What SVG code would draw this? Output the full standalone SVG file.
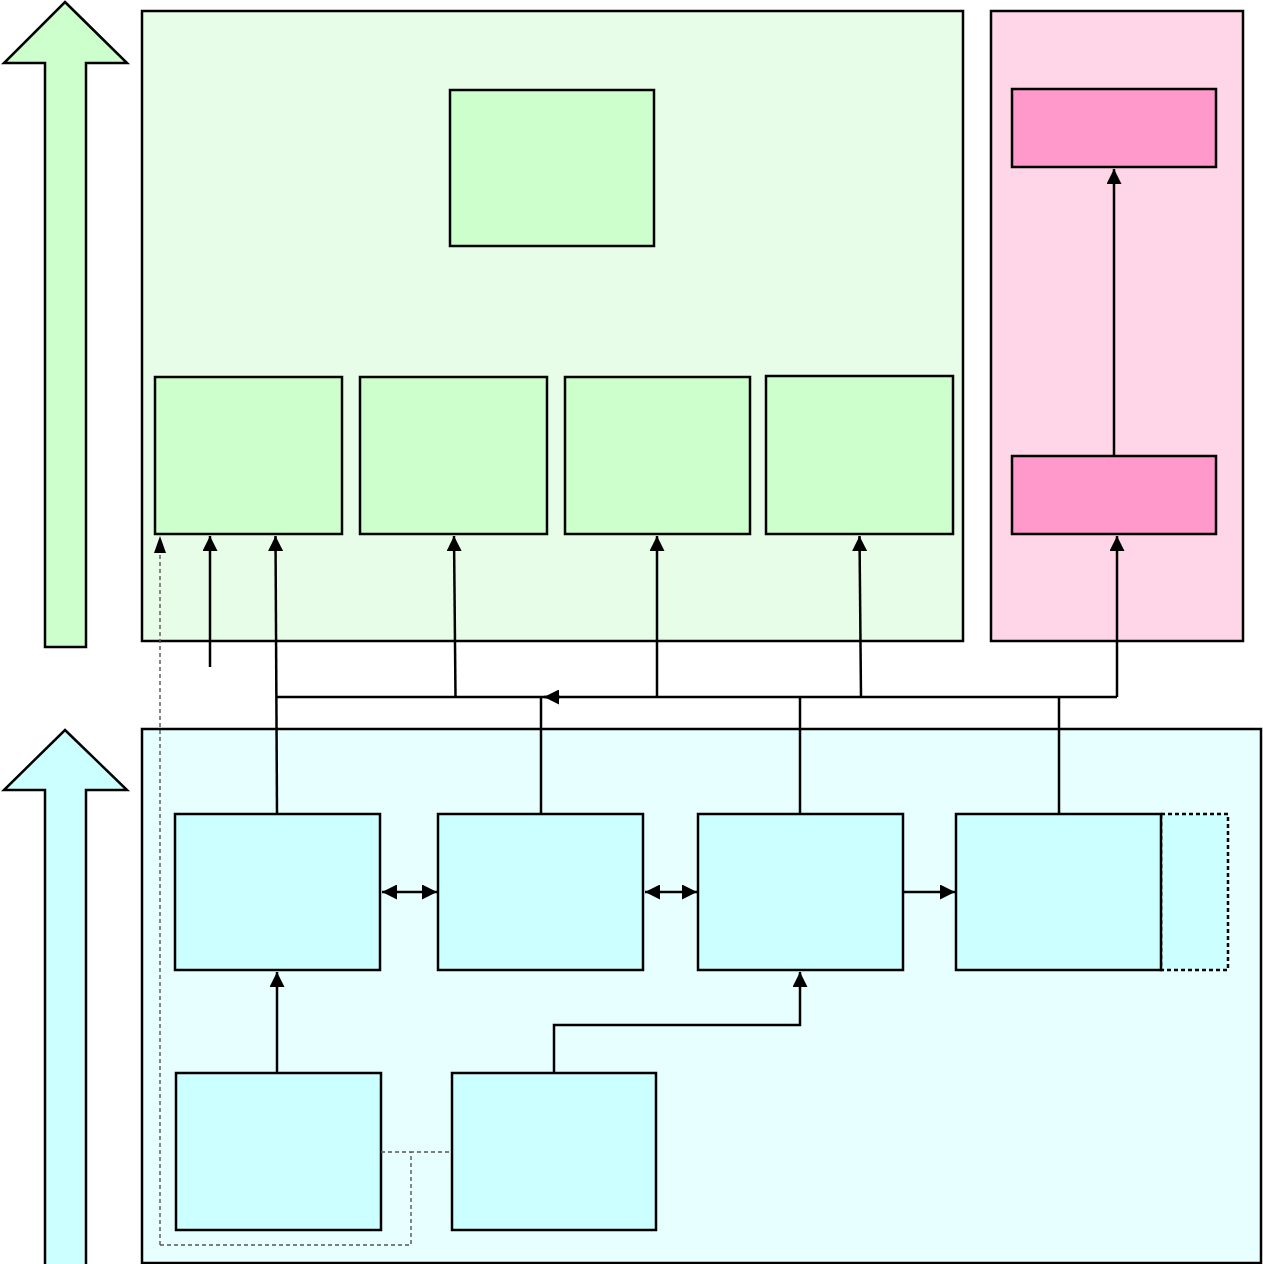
<svg xmlns="http://www.w3.org/2000/svg" width="1263" height="1264" viewBox="0 0 1263 1264">
<defs>
<marker id="ah" viewBox="0 0 10 10" refX="10" refY="5" markerWidth="16" markerHeight="15" markerUnits="userSpaceOnUse" orient="auto-start-reverse">
<path d="M0,0 L10,5 L0,10 z" fill="#000"/>
</marker>
<style>
.cg{fill:#E8FDE8;stroke:#000;stroke-width:2.5}
.cp{fill:#FFD6E8;stroke:#000;stroke-width:2.5}
.cc{fill:#E8FFFF;stroke:#000;stroke-width:2.5}
.g{fill:#CCFFCC;stroke:#000;stroke-width:2.5}
.p{fill:#FF99CC;stroke:#000;stroke-width:2.5}
.c{fill:#CCFFFF;stroke:#000;stroke-width:2.5}
.ln{fill:none;stroke:#000;stroke-width:2.5}
.ar{fill:none;stroke:#000;stroke-width:2.5;marker-end:url(#ah)}
.ar2{fill:none;stroke:#000;stroke-width:2.5;marker-end:url(#ah);marker-start:url(#ah)}
.da{fill:none;stroke:#555;stroke-width:1.4;stroke-dasharray:4,3}
</style>
</defs>
<rect width="1263" height="1264" fill="#fff"/>
<g id="arrow-green"><polygon points="65,2 127,63 86,63 86,647 45,647 45,63 4,63" fill="#CCFFCC" stroke="#000" stroke-width="2.5"/></g>
<g id="arrow-cyan"><polygon points="65,730 127,790 86,790 86,1266 45,1266 45,790 4,790" fill="#CCFFFF" stroke="#000" stroke-width="2.5"/></g>
<g id="container-green"><rect class="cg" x="142" y="11" width="821" height="630"/></g>
<g id="container-pink"><rect class="cp" x="991" y="11" width="252" height="630"/></g>
<g id="container-cyan"><rect class="cc" x="142" y="729" width="1119" height="534"/></g>
<g id="g-top"><rect class="g" x="450" y="90" width="204" height="156"/></g>
<g id="g1"><rect class="g" x="155" y="377" width="187" height="157"/></g>
<g id="g2"><rect class="g" x="360" y="377" width="187" height="157"/></g>
<g id="g3"><rect class="g" x="565" y="377" width="185" height="157"/></g>
<g id="g4"><rect class="g" x="766" y="376" width="187" height="158"/></g>
<g id="p1"><rect class="p" x="1012" y="89" width="204" height="78"/></g>
<g id="p2"><rect class="p" x="1012" y="456" width="204" height="78"/></g>
<g id="b4ext"><rect x="1161" y="814" width="67" height="156" fill="#CCFFFF" stroke="#000" stroke-width="2.5" stroke-dasharray="4,3"/></g>
<g id="b1"><rect class="c" x="175" y="814" width="205" height="156"/></g>
<g id="b2"><rect class="c" x="438" y="814" width="205" height="156"/></g>
<g id="b3"><rect class="c" x="698" y="814" width="205" height="156"/></g>
<g id="b4"><rect class="c" x="956" y="814" width="205" height="156"/></g>
<g id="b5"><rect class="c" x="176" y="1073" width="205" height="157"/></g>
<g id="b6"><rect class="c" x="452" y="1073" width="204" height="157"/></g>
<g id="connectors">
<path class="ar" d="M277,813 L275.5,536"/>
<path class="ln" d="M276,697 L1117,697"/>
<path class="ar" d="M455.5,697 L454,536"/>
<path class="ln" d="M541,697 L541,813"/>
<path class="ar" d="M657,697 L657,536"/>
<path class="ln" d="M800,697 L800,813"/>
<path class="ar" d="M861,697 L859.5,536"/>
<path class="ln" d="M1059,697 L1059,813"/>
<path class="ar" d="M1117,697 L1117,536"/>
<path class="ar" d="M560,697 L544,697"/>
<path class="ar" d="M210,667 L210,536"/>
<path class="ar" d="M1114,456 L1114,169"/>
<path class="ar" d="M277,1073 L277,972"/>
<path class="ar" d="M554,1073 L554,1025 L800,1025 L800,972"/>
<path class="ar2" d="M382,892 L437,892"/>
<path class="ar2" d="M645,892 L697,892"/>
<path class="ar" d="M903,892 L955,892"/>
<path class="da" d="M160,1245 L160,548"/>
<path d="M154,553 L160,536 L166,553 z" fill="#000"/>
<path class="da" d="M160,1245 L411,1245 L411,1152 L452,1152 M381,1152 L411,1152"/>
</g>
</svg>
